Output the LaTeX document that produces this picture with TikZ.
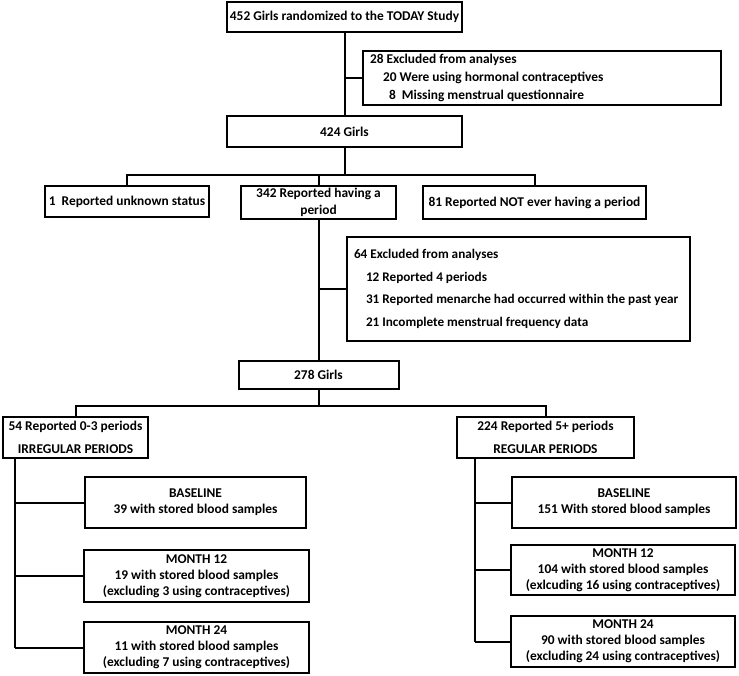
\documentclass[tikz,border=0pt]{standalone}
\usepackage{fontspec}
\setmainfont{Carlito}
\usetikzlibrary{positioning}

\begin{document}
\begin{tikzpicture}[x=1pt, y=-1pt, line width=2pt,
  box/.style={draw, rectangle, inner sep=0pt, align=center,
    font=\bfseries\fontsize{13.4}{16}\selectfont},
  listbox/.style={box, align=flush left, inner xsep=7pt}]
  \useasboundingbox (0,0) rectangle (739,675);

  % first steps
  \node[box, minimum width=235, minimum height=30] (rand) at (344.5,17)
    {452 Girls randomized to the TODAY Study};
  \node[listbox, minimum width=358, minimum height=54, text width=344,
    font=\bfseries\fontsize{13.4}{18}\selectfont] (excla) at (542,78)
    {28 Excluded from analyses\\
     \hspace*{13pt}20 Were using hormonal contraceptives\\
     \hspace*{19pt}8\ \ Missing menstrual questionnaire};
  \node[box, minimum width=235, minimum height=31] (g424) at (344.5,131.5) {424 Girls};

  \coordinate (s1) at (344.5,175);

  \node[box, minimum width=164, minimum height=31] (unk) at (127,201.5)
    {1\ \ Reported unknown status};
  \node[box, minimum width=155, minimum height=33, font=\bfseries\fontsize{13.4}{17}\selectfont]
    (per) at (318.5,202.5) {342 Reported having a\\period};
  \node[box, minimum width=223, minimum height=33] (none) at (534.5,202.5)
    {81 Reported NOT ever having a period};

  \node[listbox, minimum width=343, minimum height=104, text width=329,
    font=\bfseries\fontsize{13.2}{22.5}\selectfont] (exclb) at (518.5,289)
    {64 Excluded from analyses\\
     \hspace*{12pt}12 Reported 4 periods\\
     \mbox{\hspace*{12pt}31 Reported menarche had occurred within the past year}\\
     \hspace*{12pt}21 Incomplete menstrual frequency data};

  \node[box, minimum width=160, minimum height=28] (g278) at (318.5,375) {278 Girls};

  \coordinate (s2) at (318.5,406);

  % two groups
  \node[box, minimum width=145, minimum height=41, font=\bfseries\fontsize{13.4}{23}\selectfont]
    (irr) at (75.5,437.5) {54 Reported 0-3 periods\\IRREGULAR PERIODS};
  \node[box, minimum width=177, minimum height=41, font=\bfseries\fontsize{13.4}{23}\selectfont]
    (reg) at (545.5,437.5) {224 Reported 5+ periods\\REGULAR PERIODS};

  \node[box, minimum width=221, minimum height=51] (blL) at (195.5,502.5)
    {BASELINE\\39 with stored blood samples};
  \node[box, minimum width=225, minimum height=52] (m12L) at (196.5,576)
    {MONTH 12\\19 with stored blood samples\\(excluding 3 using contraceptives)};
  \node[box, minimum width=225, minimum height=51] (m24L) at (196.5,647.5)
    {MONTH 24\\11 with stored blood samples\\(excluding 7 using contraceptives)};

  \node[box, minimum width=224, minimum height=51] (blR) at (624,502.5)
    {BASELINE\\151 With stored blood samples};
  \node[box, minimum width=224, minimum height=50] (m12R) at (623,570)
    {MONTH 12\\104 with stored blood samples\\(exlcuding 16 using contraceptives)};
  \node[box, minimum width=224, minimum height=51] (m24R) at (623,641.5)
    {MONTH 24\\90 with stored blood samples\\(excluding 24 using contraceptives)};

  \coordinate (tL) at ([xshift=13pt]irr.south west);
  \coordinate (tR) at ([xshift=19pt]reg.south west);

  % connectors
  \draw (rand) -- (g424);
  \draw (excla.west) -- (excla.west -| rand.south);
  \draw (g424) -- (s1);
  \draw (unk.north) |- (s1) -| (none.north);
  \draw (per.north) -- (per.north |- s1);
  \draw (per.south) -- (g278.north);
  \draw (exclb.west) -- (exclb.west -| per.south);
  \draw (g278) -- (s2);
  \draw (irr.north) |- (s2) -| (reg.north);

  \draw (tL) -- (tL |- m24L.west);
  \draw (tR) -- (tR |- m24R.west);
  \foreach \n in {blL, m12L, m24L}
    \draw (\n.west) -- (\n.west -| tL);
  \foreach \n in {blR, m12R, m24R}
    \draw (\n.west) -- (\n.west -| tR);
\end{tikzpicture}
\end{document}
